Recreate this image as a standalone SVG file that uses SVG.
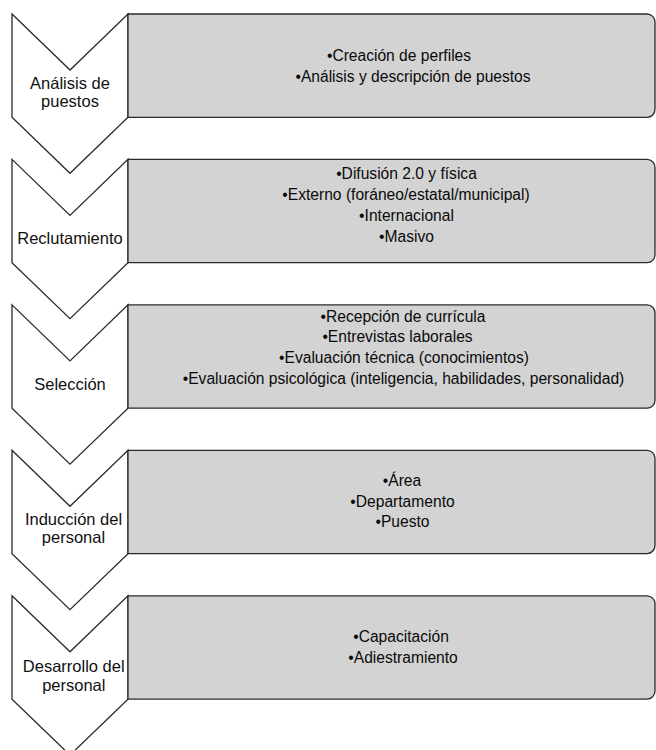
<svg xmlns="http://www.w3.org/2000/svg" width="656" height="750" viewBox="0 0 656 750">
<style>
.chev{fill:#ffffff;stroke:#2a2a2a;stroke-width:1.3;stroke-linejoin:miter}
.box{fill:#d3d3d3;stroke:#2a2a2a;stroke-width:1.3}
.lbl{font-family:"Liberation Sans",Arial,sans-serif;font-size:16.5px;fill:#111111;text-anchor:middle}
.itm{font-family:"Liberation Sans",Arial,sans-serif;font-size:15.6px;fill:#0a0a0a;text-anchor:middle}
</style>
<rect width="656" height="750" fill="#ffffff"/>
<g id="connectors"></g>
<g id="step1">
<polygon class="chev" points="12,14 70,70 128,14 128,117.3 70,173.3 12,117.3"/>
<path class="box" d="M128,14 H647 A8,8 0 0 1 655,22 V109.3 A8,8 0 0 1 647,117.3 H128 Z"/>
<text class="lbl" x="70" y="88.5">Análisis de</text>
<text class="lbl" x="70" y="107">puestos</text>
<text class="itm" x="399" y="61">•Creación de perfiles</text>
<text class="itm" x="413" y="82">•Análisis y descripción de puestos</text>
</g>
<g id="step2">
<polygon class="chev" points="12,159.4 70,215.4 128,159.4 128,262.7 70,318.7 12,262.7"/>
<path class="box" d="M128,159.4 H647 A8,8 0 0 1 655,167.4 V254.7 A8,8 0 0 1 647,262.7 H128 Z"/>
<text class="lbl" x="70" y="244.3">Reclutamiento</text>
<text class="itm" x="406.5" y="178.5">•Difusión 2.0 y física</text>
<text class="itm" x="406" y="199.5">•Externo (foráneo/estatal/municipal)</text>
<text class="itm" x="406.5" y="220.5">•Internacional</text>
<text class="itm" x="406.5" y="241.5">•Masivo</text>
</g>
<g id="step3">
<polygon class="chev" points="12,304.9 70,360.9 128,304.9 128,408.2 70,464.2 12,408.2"/>
<path class="box" d="M128,304.9 H647 A8,8 0 0 1 655,312.9 V400.2 A8,8 0 0 1 647,408.2 H128 Z"/>
<text class="lbl" x="70" y="390">Selección</text>
<text class="itm" x="403" y="321.7">•Recepción de currícula</text>
<text class="itm" x="397.5" y="342">•Entrevistas laborales</text>
<text class="itm" x="404" y="363">•Evaluación técnica (conocimientos)</text>
<text class="itm" x="403.5" y="384">•Evaluación psicológica (inteligencia, habilidades, personalidad)</text>
</g>
<g id="step4">
<polygon class="chev" points="12,450.3 70,506.3 128,450.3 128,553.6 70,609.6 12,553.6"/>
<path class="box" d="M128,450.3 H647 A8,8 0 0 1 655,458.3 V545.6 A8,8 0 0 1 647,553.6 H128 Z"/>
<text class="lbl" x="73.5" y="524.5">Inducción del</text>
<text class="lbl" x="73.5" y="543">personal</text>
<text class="itm" x="402" y="486">•Área</text>
<text class="itm" x="402.5" y="506.5">•Departamento</text>
<text class="itm" x="402.5" y="527">•Puesto</text>
</g>
<g id="step5">
<polygon class="chev" points="12,595.8 70,651.8 128,595.8 128,699.1 70,755.1 12,699.1"/>
<path class="box" d="M128,595.8 H647 A8,8 0 0 1 655,603.8 V691.1 A8,8 0 0 1 647,699.1 H128 Z"/>
<text class="lbl" x="73.7" y="672">Desarrollo del</text>
<text class="lbl" x="73.8" y="690.5">personal</text>
<text class="itm" x="401" y="641.7">•Capacitación</text>
<text class="itm" x="403" y="662.7">•Adiestramiento</text>
</g>
</svg>
